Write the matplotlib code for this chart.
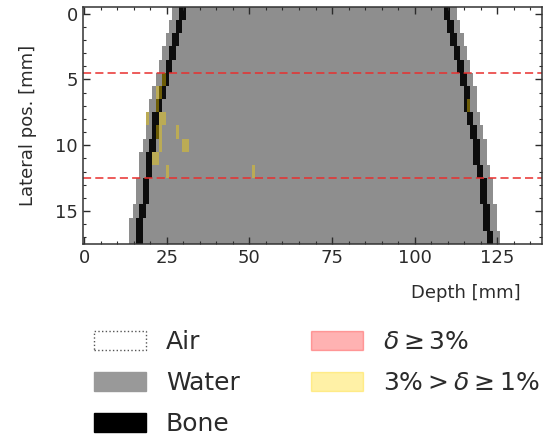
import numpy as np
import matplotlib
matplotlib.use("Agg")
import matplotlib.pyplot as plt
from matplotlib.colors import ListedColormap
from matplotlib.patches import Patch
from matplotlib.ticker import MultipleLocator

# ---------------- data ----------------
lateral_rows = np.arange(18)                     # lateral position [mm], 1 mm rows
n_depth = 139                                    # depth columns, 1 mm each
left_bone_col = [29, 28, 27, 26, 25, 24, 23, 22, 21, 21, 20, 19, 19, 18, 18, 17, 16, 16]
right_bone_col = [109, 110, 111, 112, 113, 114, 115, 115, 116, 117, 118, 118, 119, 120, 120, 121, 121, 122]
bone_width = 2
outer_water_width = 2
# cells with 3% > delta >= 1%  (depth col, lateral row)
yellow_depth = [24, 22, 23, 22, 19, 23, 24, 22, 23, 28, 23, 30, 31, 21, 22, 25, 51, 116]
yellow_lat = [5, 6, 6, 7, 8, 8, 8, 9, 9, 9, 10, 10, 10, 11, 11, 12, 12, 7]
# cells with delta >= 3% (none visible)
red_depth = []
red_lat = []
roi_lines = [4.5, 12.5]

AIR, WATER, BONE = 0, 1, 2
material_names = ["Air", "Water", "Bone"]
material_colors = ["#ffffff", "#8e8e8e", "#0d0d0d"]

# ---------------- build material map ----------------
mat = np.zeros((len(lateral_rows), n_depth), dtype=int)
for r in lateral_rows:
    lb, rb = left_bone_col[r], right_bone_col[r]
    mat[r, lb - outer_water_width:rb + bone_width + outer_water_width] = WATER
    mat[r, lb:lb + bone_width] = BONE
    mat[r, rb:rb + bone_width] = BONE

diff = np.zeros_like(mat, dtype=float)
for d, l in zip(yellow_depth, yellow_lat):
    diff[l, d] = 1
for d, l in zip(red_depth, red_lat):
    diff[l, d] = 2
diff_m = np.ma.masked_where(diff == 0, diff)

text_color = "#2b2b2b"
plt.rcParams.update({
    "font.family": ["DejaVu Sans"],
    "text.color": text_color,
    "axes.labelcolor": text_color,
    "xtick.color": text_color,
    "ytick.color": text_color,
    "mathtext.fontset": "dejavusans",
})

fig = plt.figure(figsize=(5.43, 4.37), dpi=100)
ax = fig.add_axes([0.152, 0.4416, 0.846, 0.5423])

ax.imshow(mat, cmap=ListedColormap(material_colors), vmin=-0.5, vmax=2.5,
          interpolation="nearest", aspect="auto", origin="upper",
          extent=(-0.5, n_depth - 0.5, len(lateral_rows) - 0.5, -0.5))
ax.imshow(diff_m, cmap=ListedColormap(["gold", "red"]), vmin=0.5, vmax=2.5, alpha=0.4,
          interpolation="nearest", aspect="auto", origin="upper",
          extent=(-0.5, n_depth - 0.5, len(lateral_rows) - 0.5, -0.5))

for yl in roi_lines:
    ax.axhline(yl, color="#e8302e", alpha=0.85, lw=1.3, linestyle=(0, (4.5, 2.3)))

ax.set_xlim(-0.5, n_depth - 0.5)
ax.set_ylim(len(lateral_rows) - 0.5, -0.5)
ax.xaxis.set_major_locator(MultipleLocator(25))
ax.xaxis.set_minor_locator(MultipleLocator(5))
ax.yaxis.set_major_locator(MultipleLocator(5))
ax.yaxis.set_minor_locator(MultipleLocator(1))
ax.tick_params(which="both", direction="in", top=True, right=True, labelsize=13)
ax.tick_params(which="major", length=5, width=1.0)
ax.tick_params(which="minor", length=2.5, width=0.8)
for s in ax.spines.values():
    s.set_color("#333333")
    s.set_linewidth(1.1)

ax.set_ylabel("Lateral pos. [mm]", fontsize=13, labelpad=13)
ax.set_xlabel("Depth [mm]", fontsize=13, ha="right")
ax.xaxis.set_label_coords(0.954, -0.17)

handles = [
    Patch(facecolor="white", edgecolor="#555555", linestyle=":", linewidth=1.0, label="Air"),
    Patch(facecolor="#999999", edgecolor="#999999", label="Water"),
    Patch(facecolor="black", edgecolor="black", label="Bone"),
    Patch(facecolor="red", edgecolor="red", alpha=0.3, label=r"$\delta \geq 3\%$"),
    Patch(facecolor="gold", edgecolor="gold", alpha=0.35, label=r"$3\% > \delta \geq 1\%$"),
]
fig.legend(handles=handles, loc="upper left", bbox_to_anchor=(94 / 543, 1 - 330 / 437),
           ncol=2, frameon=False, borderpad=0, borderaxespad=0, fontsize=18,
           handlelength=2.08, handleheight=0.8, handletextpad=0.8,
           columnspacing=2.85, labelspacing=0.68)

fig.savefig("out.png", dpi=100)
